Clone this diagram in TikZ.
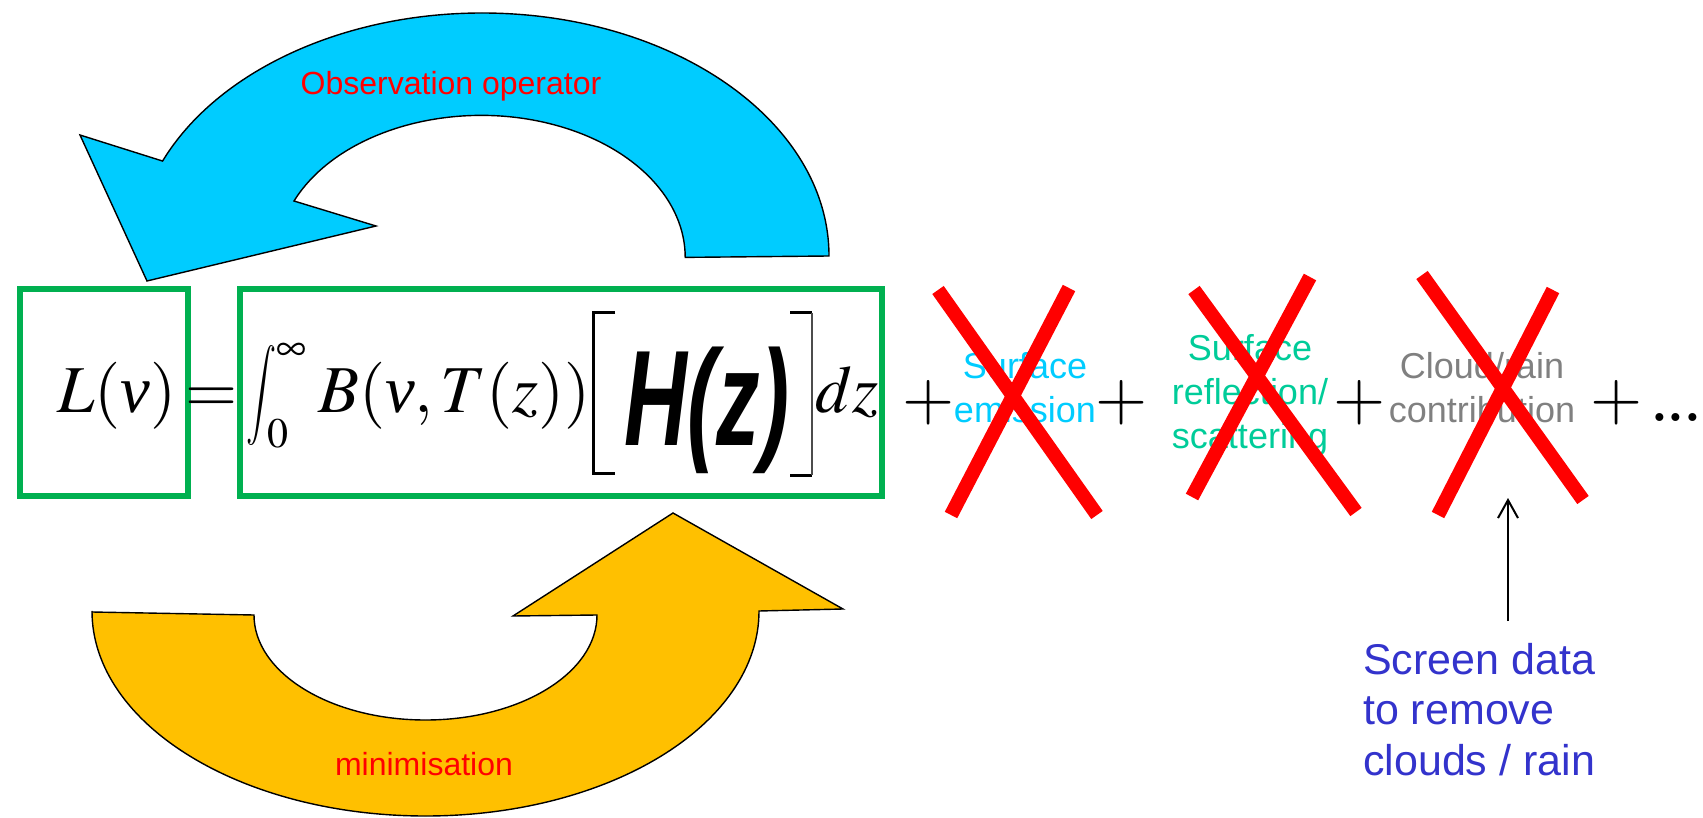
\documentclass[tikz,border=0pt]{standalone}
\usepackage{mathptmx}
\usepackage{fontspec}
\setmainfont{Liberation Serif}
\setsansfont{Liberation Sans}
\usepackage{graphicx}
\usetikzlibrary{arrows.meta}
\definecolor{arrowblue}{HTML}{00CCFF}
\definecolor{arroworange}{HTML}{FFC000}
\definecolor{boxgreen}{HTML}{00B050}
\definecolor{emitcyan}{HTML}{00CCFF}
\definecolor{reflgreen}{HTML}{00CC99}
\definecolor{cloudgray}{HTML}{808080}
\definecolor{screenblue}{HTML}{3333CC}
\newcommand{\nuit}{\mbox{\itshape ν}}
\tikzset{
  eqn/.style={font=\fontsize{67}{80}\selectfont, inner sep=0pt},
  limtxt/.style={font=\fontsize{42}{50}\selectfont, inner sep=0pt},
  lbl/.style={font=\sffamily\fontsize{36}{44}\selectfont, align=center, inner sep=0pt},
  arrowlbl/.style={font=\sffamily\fontsize{32}{38}\selectfont, text=red, inner sep=0pt},
  screentxt/.style={font=\sffamily\fontsize{43}{50.5}\selectfont, text=screenblue, align=left, inner sep=0pt},
  greenbox/.style={draw=boxgreen, line width=6pt, inner sep=0pt},
  crossline/.style={draw=red, line width=14pt},
  bigarrow/.style={draw=black, line width=1.4pt, line join=miter},
  pointer/.style={draw=black, line width=2pt, -{Straight Barb[length=18pt,width=20pt]}},
}
\begin{document}
\begin{tikzpicture}[x=1pt,y=-1pt]
\useasboundingbox (0,0) rectangle (1703,818);

% blue curved arrow (observation operator)
\fill[arrowblue] (829,256) arc[start angle=0, end angle=-157, x radius=347, y radius=243]
  -- (80,135) -- (147,281) -- (376,226) -- (294,201)
  arc[start angle=-156.6, end angle=0, x radius=204, y radius=142] -- cycle;
\draw[bigarrow] (829,256) arc[start angle=0, end angle=-157, x radius=347, y radius=243]
  -- (80,135) -- (147,281) -- (376,226) -- (294,201)
  arc[start angle=-156.6, end angle=0, x radius=204, y radius=142] -- cycle;
\node[arrowlbl, anchor=base] (obsop) at (451,95) {Observation operator};

% orange curved arrow (minimisation)
\fill[arroworange] (92,612) -- (254,615)
  arc[start angle=180, end angle=0, x radius=171.5, y radius=105]
  -- (513,616) -- (673,513) -- (843,609) -- (759,611)
  arc[start angle=0, end angle=180, x radius=333.5, y radius=205] -- cycle;
\draw[bigarrow] (92,612) -- (254,615)
  arc[start angle=180, end angle=0, x radius=171.5, y radius=105]
  -- (513,616) -- (673,513) -- (843,609) -- (759,611)
  arc[start angle=0, end angle=180, x radius=333.5, y radius=205] -- cycle;
\node[arrowlbl, anchor=base] (minim) at (424,775) {minimisation};

% green boxes
\node[greenbox, minimum width=168pt, minimum height=207pt] (lbox) at (104,392.5) {};
\node[greenbox, minimum width=642pt, minimum height=207pt] (rbox) at (561,392.5) {};

% equation
\node[eqn, anchor=base west] (lhs) at (57,412) {$L(\nuit)$};
\node[eqn, anchor=base] (eqsign) at (212,412) {$=$};
\node[inner sep=0pt, anchor=north west] (intg) at (246,345)
  {\resizebox*{30pt}{100pt}{$\displaystyle\int$}};
\node[limtxt] (upper) at (291,352) {$\infty$};
\node[limtxt] (lower) at (278,434) {$0$};
\node[eqn, anchor=base west] (bterm) at (318,412) {$B(\nuit,T(z))$};
\draw[line width=3pt] (615,313) -- (593,313) -- (593,473) -- (615,473);
\draw[line width=3pt] (790,313) -- (812,313);
\draw[line width=3pt] (790,475) -- (812,475);
\draw[line width=1.2pt, black!70] (812,313) -- (812,475);
\node[anchor=base, inner sep=0pt] (hz) at (707,445)
  {\fontsize{136}{140}\selectfont\sffamily\bfseries\itshape\scalebox{0.64}[1]{H(z)}};
\node[eqn, anchor=base west] (dz) at (815,412) {$dz$};

% further terms
\node[eqn] (plus1) at (929,403) {$+$};
\node[lbl, text=emitcyan, anchor=base] (emis) at (1025,422) {Surface\\emission};
\node[eqn] (plus2) at (1122,403) {$+$};
\node[lbl, text=reflgreen, anchor=base] (refl) at (1250,448) {Surface\\reflection/\\scattering};
\node[eqn] (plus3) at (1360,403) {$+$};
\node[lbl, text=cloudgray, anchor=base] (cloud) at (1482,422) {Cloud/rain\\contribution};
\node[eqn] (plus4) at (1617,403) {$+$};
\node[eqn, anchor=base west] (dots) at (1651,420) {...};

% crosses
\draw[crossline] (938,290) -- (1097,515);
\draw[crossline] (1069,288) -- (951,515);
\draw[crossline] (1194,290) -- (1356,512);
\draw[crossline] (1310,277) -- (1192,497);
\draw[crossline] (1422,275) -- (1583,500);
\draw[crossline] (1553,290) -- (1438,515);

% screening note
\node[screentxt, anchor=base west] (screen) at (1363,775) {Screen data\\to remove\\clouds / rain};
\coordinate (ptrbase) at (1508,621);
\coordinate (ptrtip) at (1508,498);
\draw[pointer] (ptrbase) -- (ptrtip);
\end{tikzpicture}
\end{document}
